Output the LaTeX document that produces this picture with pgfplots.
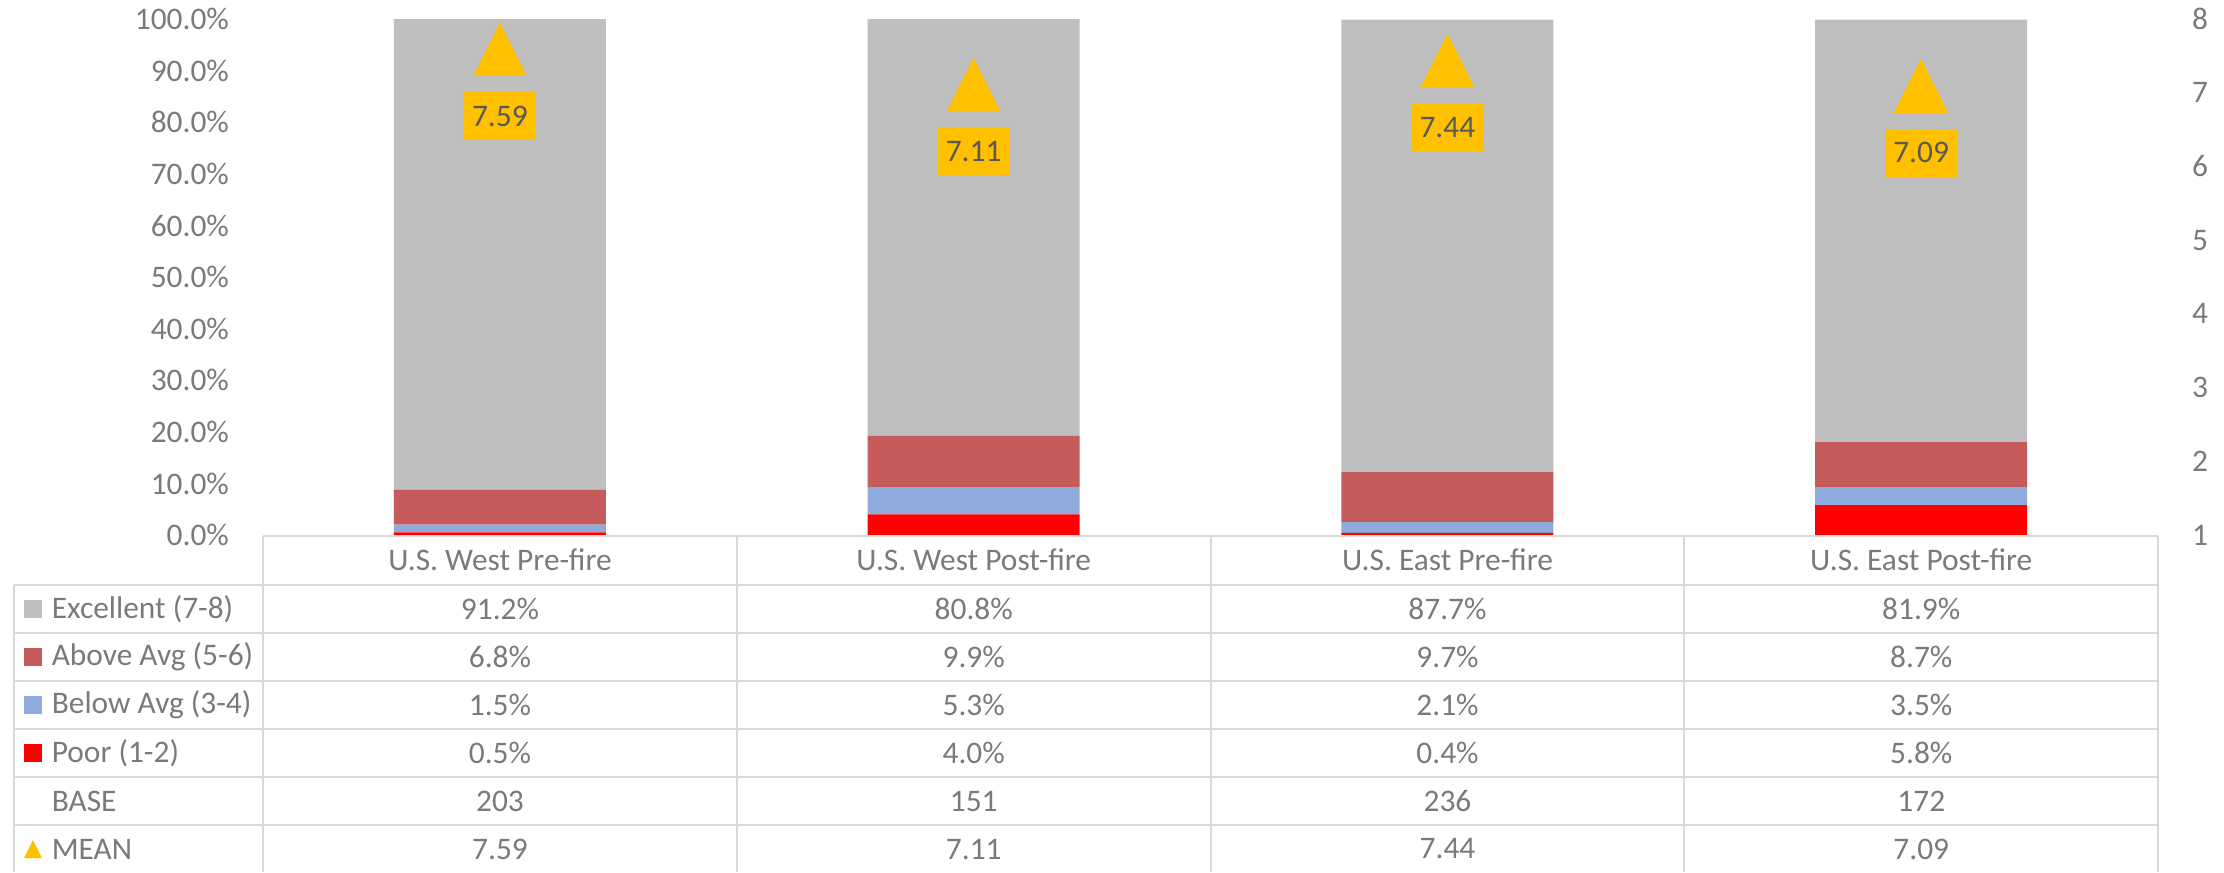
\documentclass[border=0pt]{standalone}
\usepackage{fontspec}
\setmainfont{Carlito}
\usepackage{pgfplots}
\usepackage{pgfplotstable}
\pgfplotsset{compat=1.18}

\definecolor{excelc}{HTML}{BFBFBF}
\definecolor{abovec}{HTML}{C65B5B}
\definecolor{belowc}{HTML}{8FAADC}
\definecolor{poorc}{HTML}{FF0000}
\definecolor{meanc}{HTML}{FFC000}
\definecolor{gridc}{HTML}{D9D9D9}
\definecolor{textc}{HTML}{7A7A7A}
\definecolor{labc}{HTML}{595959}

\newcommand\cf{\fontsize{7.85pt}{9.4pt}\selectfont}

% shares in percent, mean score on the 1-8 scale
\pgfplotstableread{
x poor below above excel mean base
0 0.5 1.5 6.8 91.2 7.59 203
1 4.0 5.3 9.9 80.8 7.11 151
2 0.4 2.1 9.7 87.7 7.44 236
3 5.8 3.5 8.7 81.9 7.09 172
}\scores

\pgfplotsset{
  common/.style={
    at={(65.75pt,-133.75pt)}, anchor=south west,
    scale only axis, width=473.75pt, height=129pt,
    xmin=-0.5, xmax=3.5,
    hide x axis,
    y axis line style={draw=none},
    ytick style={draw=none},
    tick label style={font=\cf, text=textc},
    /pgf/number format/assume math mode=true,
  },
}

\begin{document}
\begin{tikzpicture}
\useasboundingbox (0,0) rectangle (556pt,-218pt);

\begin{axis}[common,
  ymin=0, ymax=100,
  axis y line*=left,
  ytick={0,10,...,100},
  yticklabel={\pgfmathprintnumber[fixed,fixed zerofill,precision=1]{\tick}\%},
  yticklabel style={xshift=-5pt},
  ybar stacked, bar width=53pt,
]
\addplot[fill=poorc, draw=none] table[x=x, y=poor] {\scores};
\addplot[fill=belowc, draw=none] table[x=x, y=below] {\scores};
\addplot[fill=abovec, draw=none] table[x=x, y=above] {\scores};
\addplot[fill=excelc, draw=none] table[x=x, y=excel] {\scores};
\end{axis}

\begin{axis}[common,
  ymin=1, ymax=8,
  axis y line*=right,
  ytick={1,...,8},
  yticklabel style={xshift=5pt},
]
\addplot[only marks, mark=triangle*, mark size=8.83pt, color=meanc,
  mark options={fill=meanc, draw=meanc, line width=0pt, xscale=0.866, yshift=-2.2pt},
  point meta=y,
  nodes near coords={\pgfmathprintnumber[fixed,fixed zerofill,precision=2]{\pgfplotspointmeta}},
  every node near coord/.style={anchor=center, yshift=-14.5pt, fill=meanc,
    text=labc, font=\cf, inner sep=0pt, minimum width=18.25pt, minimum height=12pt},
] table[x=x, y=mean] {\scores};
\end{axis}

% data table under the chart
\begin{scope}[x=0.25pt, y=-0.25pt, font=\cf, text=textc]
  \draw[gridc, line width=0.55pt] (263,536) -- (2158,536);
  \foreach \y in {585,633,681,729,777,825}
    \draw[gridc, line width=0.55pt] (14,\y) -- (2158,\y);
  \draw[gridc, line width=0.55pt] (14,585) -- (14,872);
  \foreach \x in {263,737,1211,1684,2158}
    \draw[gridc, line width=0.55pt] (\x,536) -- (\x,872);

  \foreach \i/\t in {0/U.S. West Pre-fire, 1/U.S. West Post-fire, 2/U.S. East Pre-fire, 3/U.S. East Post-fire}
    \node at ({500+473.75*\i},560) {\t};

  \fill[excelc] (24,600) rectangle (42,618);
  \fill[abovec] (24,648) rectangle (42,666);
  \fill[belowc] (24,696) rectangle (42,714);
  \fill[poorc] (24,744) rectangle (42,762);
  \fill[meanc] (24,858) -- (42,858) -- (33,840) -- cycle;

  \begin{scope}[every node/.style={anchor=west, inner sep=0pt}]
    \node at (51,609) {Excellent (7-8)};
    \node at (51,657) {Above Avg (5-6)};
    \node at (51,705) {Below Avg (3-4)};
    \node at (51,753) {Poor (1-2)};
    \node at (51,801) {BASE};
    \node at (51,849) {MEAN};
  \end{scope}

  \foreach \i/\a/\b/\c/\d/\n/\m in {
      0/91.2/6.8/1.5/0.5/203/7.59,
      1/80.8/9.9/5.3/4.0/151/7.11,
      2/87.7/9.7/2.1/0.4/236/7.44,
      3/81.9/8.7/3.5/5.8/172/7.09} {
    \node at ({500+473.75*\i},609) {\a\%};
    \node at ({500+473.75*\i},657) {\b\%};
    \node at ({500+473.75*\i},705) {\c\%};
    \node at ({500+473.75*\i},753) {\d\%};
    \node at ({500+473.75*\i},801) {\n};
    \node at ({500+473.75*\i},849) {\m};
  }
\end{scope}
\end{tikzpicture}
\end{document}
